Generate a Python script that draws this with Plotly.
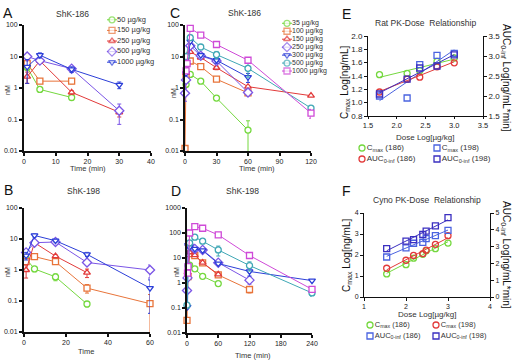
import numpy as np
import plotly.graph_objects as go

# ---------------- data ----------------
# Panel A: ShK-186 (rat) plasma concentration (nM) vs time (min)
A_labels = ["50 µg/kg", "150 µg/kg", "250 µg/kg", "500 µg/kg", "1000 µg/kg"]
A_t_50 = [1, 5, 15]
A_v_50 = [4.5, 0.9, 0.5]
A_e_50 = [0, 0, 0.08]
A_t_150 = [1, 5, 15]
A_v_150 = [6.0, 1.65, 1.65]
A_e_150 = [4.6, 0, 0.3]
A_t_250 = [1, 5, 15, 30]
A_v_250 = [2.3, 7.3, 0.73, 0.17]
A_e_250 = [0.9, 0, 0.1, 0.05]
A_t_500 = [1, 5, 15, 30]
A_v_500 = [10.0, 7.4, 4.1, 0.19]
A_e_500 = [2.0, 0, 0.6, 0.12]
A_t_1000 = [1, 5, 15, 30]
A_v_1000 = [4.7, 11.0, 3.9, 1.25]
A_e_1000 = [3.3, 2.0, 0.8, 0.3]

# Panel B: ShK-198 (rat)
B_t_50 = [1, 5, 15, 30]
B_v_50 = [2.3, 1.08, 0.6, 0.08]
B_e_50 = [0, 0.2, 0.15, 0.015]
B_t_150 = [1, 5, 15, 30, 60]
B_v_150 = [1.85, 2.7, 1.85, 0.26, 0.082]
B_e_150 = [0, 0, 0.3, 0.08, 0.08]
B_t_250 = [1, 5, 15, 30]
B_v_250 = [1.0, 7.6, 2.8, 0.82]
B_e_250 = [0.45, 0, 0.3, 0.25]
B_t_500 = [1, 5, 15, 30, 60]
B_v_500 = [3.7, 7.6, 8.0, 1.75, 1.0]
B_e_500 = [0.8, 0, 0.6, 0.3, 0.45]
B_t_1000 = [1, 5, 15, 30, 60]
B_v_1000 = [2.9, 13.0, 8.8, 3.2, 0.26]
B_e_1000 = [0.8, 1.5, 0.8, 0.5, 0.22]

# Panel C: ShK-186 (cyno)
C_labels = ["35 µg/kg", "100 µg/kg", "150 µg/kg", "250 µg/kg",
            "300 µg/kg", "500 µg/kg", "1000 µg/kg"]
C_t_35 = [1, 5, 15, 30, 60]
C_v_35 = [1.3, 2.7, 1.65, 0.48, 0.046]
C_e_35 = [0, 0, 0, 0.08, 0.045]
C_t_100 = [0, 1, 5, 15, 30, 60]
C_v_100 = [0.012, 2.6, 7.2, 4.8, 1.9, 0.7]
C_e_100 = [0, 0, 0, 0, 0.3, 0.1]
C_t_150 = [1, 5, 15, 30, 60, 120]
C_v_150 = [3.0, 14.0, 9.3, 4.4, 1.1, 0.57]
C_e_150 = [0, 0, 0, 0.6, 0, 0]
C_t_250 = [0, 1, 5, 15, 30, 60]
C_v_250 = [0.68, 1.8, 22.0, 10.5, 7.2, 0.72]
C_e_250 = [0.3, 0, 0, 0, 0, 0.1]
C_t_300 = [1, 2, 5, 15, 30, 60]
C_v_300 = [2.9, 5.3, 30.0, 11.0, 7.6, 2.2]
C_e_300 = [0, 0, 0, 0, 1.5, 0.7]
C_t_500 = [1, 5, 15, 30, 60, 120]
C_v_500 = [10.0, 40.0, 20.0, 11.5, 4.2, 0.23]
C_e_500 = [0, 8.0, 0, 3.0, 2.0, 0]
C_t_1000 = [1, 2, 5, 15, 30, 60, 120]
C_v_1000 = [3.5, 6.0, 78.0, 48.0, 24.0, 7.6, 0.16]
C_e_1000 = [0, 0, 0, 0, 0, 0, 0.05]

# Panel D: ShK-198 (cyno)
D_t_35 = [5, 15, 30, 60]
D_v_35 = [5.2, 3.7, 1.85, 0.95]
D_e_35 = [0, 0, 0, 0]
D_t_100 = [0, 2, 5, 15, 30, 60, 120]
D_v_100 = [0.032, 1.8, 15.0, 12.5, 6.4, 2.1, 0.55]
D_e_100 = [0, 0, 0, 0, 0, 0, 0.15]
D_t_150 = [1, 5, 15, 30, 60]
D_v_150 = [2.7, 17.0, 13.0, 6.5, 2.2]
D_e_150 = [0, 0, 0, 0, 0]
D_t_250 = [0, 1, 5, 15, 30, 60, 120]
D_v_250 = [0.5, 1.6, 32.0, 23.0, 21.0, 6.5, 1.3]
D_e_250 = [0, 0, 0, 0, 0, 0, 0.4]
D_t_300 = [1, 2, 5, 15, 30, 60, 120, 240]
D_v_300 = [0.11, 33.0, 27.0, 23.0, 20.0, 6.0, 2.9, 1.25]
D_e_300 = [0, 0, 0, 0, 0, 0, 1.0, 0]
D_t_500 = [0, 2, 5, 15, 30, 60, 120, 240]
D_v_500 = [0.13, 5.0, 40.0, 68.0, 47.0, 21.0, 5.0, 0.4]
D_e_500 = [0, 0, 0, 0, 0, 9.0, 2.0, 0.1]
D_t_1000 = [1, 2, 5, 15, 30, 60, 120, 240]
D_v_1000 = [2.5, 4.5, 100.0, 180.0, 155.0, 84.0, 12.6, 0.56]
D_e_1000 = [0, 0, 0, 0, 0, 0, 0, 0.1]

# Panel E: rat PK-dose relationship (log dose)
E_dose = [1.70, 2.18, 2.40, 2.70, 3.00]
E_cmax_186 = [1.42, 1.44, 1.48, 1.62, 1.67]
E_auc_186 = [2.10, 2.42, 2.47, 2.73, 2.83]
E_cmax_198 = [1.10, 1.07, 1.57, 1.71, 1.74]
E_auc_198 = [2.05, 2.42, 2.70, 2.75, 3.03]
E_labels = ["C<sub>max</sub> (186)", "C<sub>max</sub> (198)",
            "AUC<sub>0-inf</sub> (186)", "AUC<sub>0-inf</sub> (198)"]

# Panel F: cyno PK-dose relationship (log dose)
F_dose = [1.54, 2.00, 2.18, 2.40, 2.48, 2.70, 3.00]
F_cmax_186 = [1.10, 1.54, 1.85, 2.03, 2.20, 2.30, 2.57]
F_cmax_198 = [1.37, 1.75, 1.98, 2.07, 2.23, 2.51, 2.92]
F_auc_186 = [2.38, 2.93, 3.20, 3.25, 3.48, 3.65, 3.97]
F_auc_198 = [2.88, 3.33, 3.42, 3.72, 3.92, 4.23, 4.72]
F_labels = ["C<sub>max</sub> (186)", "C<sub>max</sub> (198)",
            "AUC<sub>0-inf</sub> (186)", "AUC<sub>0-inf</sub> (198)"]

LOG_TICKS = [0.01, 0.1, 1, 10, 100, 1000]
LOG_TEXT = ["0.01", "0.1", "1", "10", "100", "1000"]

# ---------------- styles ----------------
W, H = 513, 360
FONT = "Arial, Liberation Sans, sans-serif"
GREEN = "#74d83e"
ORANGE = "#e8743a"
RED = "#e23a3a"
PURPLE = "#7b55e6"
BLUE = "#2c3fd8"
TEAL = "#3fa7b5"
MAGENTA = "#cf4ad8"
LBLUE = "#4a63e0"
NAVY = "#3a2fc0"
RAT_COLORS = [GREEN, ORANGE, RED, PURPLE, BLUE]
RAT_SYMBOLS = ["circle", "square", "triangle-up", "diamond", "triangle-down"]
CY_COLORS = [GREEN, ORANGE, RED, PURPLE, BLUE, TEAL, MAGENTA]
CY_SYMBOLS = ["circle", "square", "triangle-up", "diamond", "triangle-down", "circle", "square"]


def fx(a, b):
    return [a / W, b / W]


def fy(top, bottom):
    return [1 - bottom / H, 1 - top / H]


fig = go.Figure()


def add_pk(xa, ya, t, v, e, color, symbol):
    size = 7 if symbol == "diamond" else 6
    fig.add_trace(go.Scatter(
        x=t, y=v, xaxis=xa, yaxis=ya, mode="lines+markers",
        line=dict(color=color, width=1),
        marker=dict(symbol=symbol, size=size, color="white", line=dict(color=color, width=1.3)),
        error_y=dict(type="data", array=e, color=color, thickness=1, width=2),
        cliponaxis=False, hoverinfo="skip"))


def add_scatter_fit(xa, ya, x, y, color, symbol):
    k, b = np.polyfit(x, y, 1)
    xs = np.array([min(x), max(x)])
    fig.add_trace(go.Scatter(x=xs, y=k * xs + b, xaxis=xa, yaxis=ya, mode="lines",
                             line=dict(color=color, width=1), hoverinfo="skip"))
    fig.add_trace(go.Scatter(x=x, y=y, xaxis=xa, yaxis=ya, mode="markers",
                             marker=dict(symbol=symbol, size=6, color="rgba(255,255,255,0)",
                                         line=dict(color=color, width=1.3)),
                             cliponaxis=False, hoverinfo="skip"))


def add_legend_rows(xa, ya, labels, colors, symbols, fsize):
    for i, (lab, c, s) in enumerate(zip(labels, colors, symbols)):
        msize = 7 if s == "diamond" else 6
        fig.add_trace(go.Scatter(
            x=[0, 1, 2], y=[i, i, i], xaxis=xa, yaxis=ya, mode="lines+markers",
            line=dict(color=c, width=1),
            marker=dict(symbol=s, size=[0, msize, 0], color="white", line=dict(color=c, width=1.3)),
            cliponaxis=False, hoverinfo="skip"))
        fig.add_trace(go.Scatter(
            x=[2], y=[i], xaxis=xa, yaxis=ya, mode="text",
            text=[lab], textposition="middle right",
            textfont=dict(size=fsize, color="#333", family=FONT),
            cliponaxis=False, hoverinfo="skip"))


def add_legend_grid(xa, ya, labels, colors, symbols, ncols, fsize):
    for i, (lab, c, s) in enumerate(zip(labels, colors, symbols)):
        fig.add_trace(go.Scatter(
            x=[i % ncols], y=[i // ncols], xaxis=xa, yaxis=ya, mode="markers+text",
            marker=dict(symbol=s, size=6, color="white", line=dict(color=c, width=1.3)),
            text=[lab], textposition="middle right",
            textfont=dict(size=fsize, color="#333", family=FONT),
            cliponaxis=False, hoverinfo="skip"))


# Panel A
for (t, v, e), c, s in zip([(A_t_50, A_v_50, A_e_50), (A_t_150, A_v_150, A_e_150),
                            (A_t_250, A_v_250, A_e_250), (A_t_500, A_v_500, A_e_500),
                            (A_t_1000, A_v_1000, A_e_1000)], RAT_COLORS, RAT_SYMBOLS):
    add_pk("x", "y", t, v, e, c, s)
# Panel B
for (t, v, e), c, s in zip([(B_t_50, B_v_50, B_e_50), (B_t_150, B_v_150, B_e_150),
                            (B_t_250, B_v_250, B_e_250), (B_t_500, B_v_500, B_e_500),
                            (B_t_1000, B_v_1000, B_e_1000)], RAT_COLORS, RAT_SYMBOLS):
    add_pk("x2", "y2", t, v, e, c, s)
# Panel C
for (t, v, e), c, s in zip([(C_t_35, C_v_35, C_e_35), (C_t_100, C_v_100, C_e_100),
                            (C_t_150, C_v_150, C_e_150), (C_t_250, C_v_250, C_e_250),
                            (C_t_300, C_v_300, C_e_300), (C_t_500, C_v_500, C_e_500),
                            (C_t_1000, C_v_1000, C_e_1000)], CY_COLORS, CY_SYMBOLS):
    add_pk("x3", "y3", t, v, e, c, s)
# Panel D
for (t, v, e), c, s in zip([(D_t_35, D_v_35, D_e_35), (D_t_100, D_v_100, D_e_100),
                            (D_t_150, D_v_150, D_e_150), (D_t_250, D_v_250, D_e_250),
                            (D_t_300, D_v_300, D_e_300), (D_t_500, D_v_500, D_e_500),
                            (D_t_1000, D_v_1000, D_e_1000)], CY_COLORS, CY_SYMBOLS):
    add_pk("x4", "y4", t, v, e, c, s)
# Panel E
add_scatter_fit("x5", "y5", E_dose, E_cmax_186, GREEN, "circle")
add_scatter_fit("x5", "y6", E_dose, E_auc_186, RED, "circle")
add_scatter_fit("x5", "y5", E_dose, E_cmax_198, LBLUE, "square")
add_scatter_fit("x5", "y6", E_dose, E_auc_198, NAVY, "square")
# Panel F
add_scatter_fit("x7", "y7", F_dose, F_cmax_186, GREEN, "circle")
add_scatter_fit("x7", "y7", F_dose, F_cmax_198, RED, "circle")
add_scatter_fit("x7", "y8", F_dose, F_auc_186, LBLUE, "square")
add_scatter_fit("x7", "y8", F_dose, F_auc_198, NAVY, "square")

# legends
add_legend_rows("x9", "y9", A_labels, RAT_COLORS, RAT_SYMBOLS, 7.5)
add_legend_rows("x10", "y10", C_labels, CY_COLORS, CY_SYMBOLS, 7)
add_legend_grid("x11", "y11", E_labels, [GREEN, LBLUE, RED, NAVY],
                ["circle", "square", "circle", "square"], 2, 8)
add_legend_grid("x12", "y12", F_labels, [GREEN, RED, LBLUE, NAVY],
                ["circle", "circle", "square", "square"], 2, 7.5)

tick_font = dict(size=7, color="#222", family=FONT)


def ax(domain, anchor, lw=1.5, **kw):
    d = dict(domain=domain, anchor=anchor, showline=True, linecolor="#111", linewidth=lw,
             ticks="outside", ticklen=3, tickwidth=lw, tickcolor="#111", showgrid=False,
             zeroline=False, tickfont=tick_font, fixedrange=True, automargin=False)
    d.update(kw)
    return d


def logax(domain, anchor, lw, top):
    n = LOG_TICKS.index(top) + 1
    return ax(domain, anchor, lw, type="log", range=[-2, np.log10(top)],
              tickvals=LOG_TICKS[:n], ticktext=LOG_TEXT[:n])


def hidden(domain, rng):
    return dict(domain=domain, range=rng, visible=False, fixedrange=True,
                showgrid=False, zeroline=False)


ef_font = dict(size=8, color="#222", family=FONT)
ff_font = dict(size=7, color="#222", family=FONT)

fig.update_layout(
    width=W, height=H, margin=dict(l=0, r=0, t=0, b=0, pad=0, autoexpand=False), autosize=False,
    paper_bgcolor="white", plot_bgcolor="white", showlegend=False,
    font=dict(family=FONT, color="#222"),
    xaxis=ax(fx(24, 151), "y", 2, range=[0, 40], tickvals=[0, 10, 20, 30, 40]),
    yaxis=logax(fy(25, 151), "x", 2, 100),
    xaxis2=ax(fx(24, 150), "y2", 2, range=[0, 60], tickvals=[0, 20, 40, 60]),
    yaxis2=logax(fy(208, 332), "x2", 2, 100),
    xaxis3=ax(fx(185, 311), "y3", 1.5, range=[0, 120], tickvals=[0, 30, 60, 90, 120]),
    yaxis3=logax(fy(25, 151), "x3", 1.5, 100),
    xaxis4=ax(fx(187, 312), "y4", 1.5, range=[0, 240], tickvals=[0, 60, 120, 180, 240]),
    yaxis4=logax(fy(208, 333), "x4", 1.5, 1000),
    xaxis5=ax(fx(368, 483), "y5", 1, range=[1.5, 3.5], dtick=0.5, tick0=1.5, ticklen=2,
              tickformat=".1f", tickfont=dict(size=7.5, color="#222", family=FONT)),
    yaxis5=ax(fy(36, 116), "x5", 1, range=[0.8, 2.0], dtick=0.2, tick0=0.8,
              tickformat=".1f", tickfont=ef_font),
    yaxis6=ax(fy(36, 116), "x5", 1, range=[1.5, 3.5], dtick=0.5, tick0=1.5,
              tickformat=".1f", tickfont=ef_font, overlaying="y5", side="right"),
    xaxis7=ax(fx(364, 490), "y7", 1, range=[1, 4], dtick=1, tickfont=ff_font),
    yaxis7=ax(fy(213, 297), "x7", 1, range=[0, 4], dtick=1, tickfont=ff_font),
    yaxis8=ax(fy(213, 297), "x7", 1, range=[0, 5], dtick=1, tickfont=ff_font,
              overlaying="y7", side="right"),
    xaxis9=hidden(fx(107, 117), [0, 2]),
    yaxis9=hidden(fy(14.5, 67.5), [4.5, -0.5]),
    xaxis10=hidden(fx(282, 292), [0, 2]),
    yaxis10=hidden(fy(19.3, 75), [6.5, -0.5]),
    xaxis11=hidden(fx(362, 437), [0, 1]),
    yaxis11=hidden(fy(148, 159), [1, 0]),
    xaxis12=hidden(fx(370, 436), [0, 1]),
    yaxis12=hidden(fy(325, 336), [1, 0]),
)

ann = []


def note(x, y, text, size, angle=0, color="#111"):
    ann.append(dict(x=x / W, y=1 - y / H, xref="paper", yref="paper", text=text,
                    showarrow=False, textangle=angle, xanchor="center", yanchor="middle",
                    font=dict(size=size, color=color, family=FONT)))


# panel letters
for lx, ly, t in [(8, 13, "A"), (8, 190, "B"), (175, 13, "C"), (176, 191, "D"),
                  (346, 14, "E"), (346, 191, "F")]:
    note(lx, ly, t, 14)
# titles
note(72, 14, "ShK-186", 8.5, color="#333")
note(83, 191, "ShK-198", 8.5, color="#333")
note(244, 13, "ShK-186", 8.5, color="#333")
note(242, 191, "ShK-198", 8.5, color="#333")
note(425, 23, "Rat PK-Dose  Relationship", 8.5, color="#333")
note(427, 200, "Cyno PK-Dose  Relationship", 8.5, color="#333")
# x titles
note(88, 168, "Time (min)", 7.5, color="#333")
note(86, 351, "Time", 7.5, color="#333")
note(257, 168, "Time (min)", 7.5, color="#333")
note(253, 355, "Time (min)", 7.5, color="#333")
note(425, 137, "Dose Log[µg/kg]", 8, color="#333")
note(427, 314, "Dose Log[µg/kg]", 8, color="#333")
# y titles
note(7, 90, "nM", 7, -90, "#333")
note(7, 272, "nM", 7, -90, "#333")
note(174, 93, "nM", 7, -90, "#333")
note(176, 272, "nM", 7, -90, "#333")
note(345, 82, "C<sub>max</sub> Log[ng/mL]", 10, -90)
note(506, 78, "AUC<sub>0-inf</sub> Log[ng/mL*min]", 10, 90)
note(347, 255, "C<sub>max</sub> Log[ng/mL]", 10, -90)
note(506, 255, "AUC<sub>0-inf</sub> Log[ng/mL*min]", 10, 90)

fig.update_layout(annotations=ann)
fig.write_html("out.html", config={"displayModeBar": False},
               post_script="document.body.style.margin='0';document.body.style.padding='0';")
